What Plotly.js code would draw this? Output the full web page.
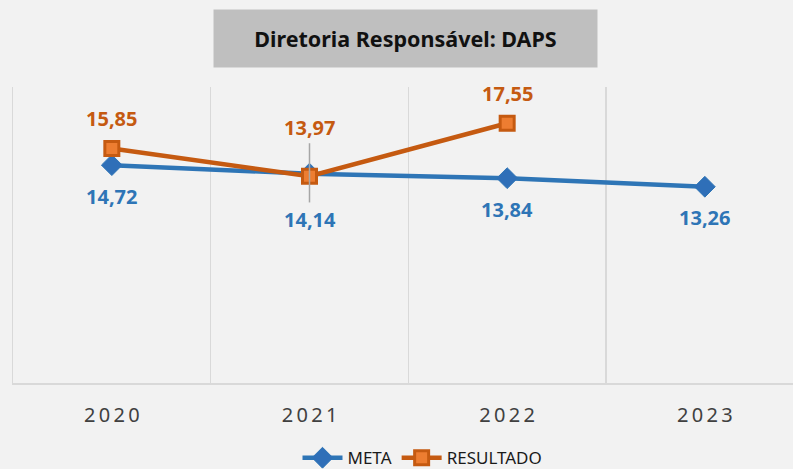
<!DOCTYPE html>
<html>
<head>
<meta charset="utf-8">
<script src="https://cdn.plot.ly/plotly-3.0.1.min.js"></script>
<style>
html,body{margin:0;padding:0;background:#f2f2f2;}
#chart{width:793px;height:469px;}
</style>
</head>
<body>
<div id="chart"></div>
<script>
const categories = ["2020", "2021", "2022", "2023"];
const tickLabels = ["2\u20090\u20092\u20090", "2\u20090\u20092\u20091", "2\u20090\u20092\u20092", "2\u20090\u20092\u20093"];
const meta = [14.72, 14.14, 13.84, 13.26];
const resultado = [15.85, 13.97, 17.55];
const metaLabels = ["14,72", "14,14", "13,84", "13,26"];
const resultadoLabels = ["15,85", "13,97", "17,55"];
const markCategory = ["2021"];
const markCenter = [14.2];
const markHalf = [2.0];

const blue = "#2e75b6";
const orange = "#c55a11";
const fontFam = "Noto Sans, Open Sans, sans-serif";

const traces = [
  {
    x: categories, y: meta, name: "META", type: "scatter", mode: "lines+markers",
    line: {color: blue, width: 4.5},
    marker: {symbol: "diamond", size: 16, color: "#2f6fb8", line: {color: blue, width: 1}},
    hoverinfo: "skip"
  },
  {
    x: categories.slice(0, resultado.length), y: resultado, name: "RESULTADO", type: "scatter", mode: "lines+markers",
    line: {color: orange, width: 4.5},
    marker: {symbol: "square", size: 14, color: "#ed7d31", line: {color: orange, width: 3}},
    hoverinfo: "skip"
  },
  {
    x: markCategory, y: markCenter, type: "scatter", mode: "markers", showlegend: false,
    marker: {size: 1, opacity: 0},
    error_y: {type: "data", array: markHalf, visible: true, color: "#a6a6a6", thickness: 1.5, width: 0},
    hoverinfo: "skip"
  }
];

const annotations = [];
meta.forEach((v, i) => {
  annotations.push({
    x: i, y: v, xref: "x", yref: "y", text: metaLabels[i], showarrow: false,
    yshift: i === 1 ? -46 : -31,
    font: {family: fontFam, size: 20, color: blue, weight: 700}
  });
});
resultado.forEach((v, i) => {
  annotations.push({
    x: i, y: v, xref: "x", yref: "y", text: resultadoLabels[i], showarrow: false,
    yshift: i === 1 ? 49 : 30,
    font: {family: fontFam, size: 20, color: orange, weight: 700}
  });
});
annotations.push({
  xref: "paper", yref: "paper", x: 0.503, y: 1.164, xanchor: "center", yanchor: "middle",
  text: "Diretoria Responsável: DAPS", showarrow: false,
  width: 383, height: 57, bgcolor: "#bfbfbf", borderpad: 0,
  font: {family: fontFam, size: 21.5, color: "#111111", weight: 700}
});

const layout = {
  width: 793, height: 469,
  paper_bgcolor: "#f2f2f2", plot_bgcolor: "#f2f2f2",
  margin: {l: 13, r: 0, t: 87, b: 86, autoexpand: false},
  showlegend: true,
  legend: {
    orientation: "h", x: 0.525, xanchor: "center", y: -0.254, yanchor: "middle",
    font: {family: fontFam, size: 17, color: "#1a1a1a"},
    bgcolor: "rgba(0,0,0,0)", itemwidth: 40, tracegroupgap: 0
  },
  xaxis: {
    type: "category", range: [-0.5, 3.446], tickson: "boundaries",
    tickvals: categories, ticktext: tickLabels,
    showgrid: true, gridcolor: "#d9d9d9", gridwidth: 1.5,
    showline: true, linecolor: "#d9d9d9", linewidth: 1.5,
    ticks: "", ticklabelstandoff: 13,
    tickfont: {family: fontFam, size: 20, color: "#404040"},
    fixedrange: true
  },
  yaxis: {
    range: [0, 20], showticklabels: false, showgrid: false, zeroline: false,
    showline: true, linecolor: "#d9d9d9", linewidth: 1.5, ticks: "", fixedrange: true
  },
  annotations: annotations
};

Plotly.newPlot("chart", traces, layout, {displayModeBar: false, staticPlot: true});
</script>
</body>
</html>
